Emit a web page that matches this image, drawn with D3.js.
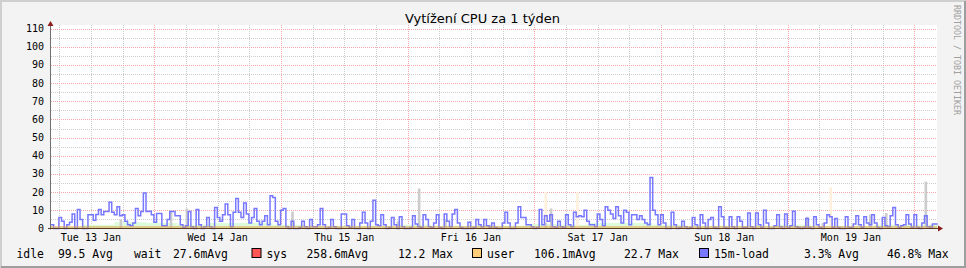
<!DOCTYPE html>
<html>
<head>
<meta charset="utf-8">
<script src="https://cdn.jsdelivr.net/npm/d3@7"></script>
<style>
  body { margin: 0; background: #f3f3f3; }
  svg { display: block; }
  text { font-family: "DejaVu Sans Mono", monospace; }
</style>
</head>
<body>
<svg id="chart"></svg>
<script>
// --- data ---
const title = "Vytížení CPU za 1 týden";
const watermark = "RRDTOOL / TOBI OETIKER";
const startTime = Date.UTC(2009, 0, 13, 4, 26);
const stepMinutes = 30;

// 15 minute load, one value every 30 minutes
const loadVals = [
  2, 0, 0, 6, 4, 0, 2, 3.5, 8, 0, 10.5, 5, 0, 0, 7.5, 7.5, 4.5, 7.7, 10.4, 7.5,
  9.3, 9.3, 14.5, 9, 7.5, 12, 7, 7.5, 4, 2, 1.5, 3, 11, 7, 9.3, 19.5, 9.3, 9.5, 7.5, 3.5,
  8.2, 8.2, 1.5, 1.5, 5, 9.3, 9.3, 7, 7, 2, 0.5, 1.5, 9.3, 1, 0, 10.5, 2, 0, 1, 6,
  1, 0, 11.5, 6, 4, 7.5, 13.5, 7.5, 1, 9, 16.5, 9, 6, 14, 8, 3, 6, 11, 4, 2,
  4, 7, 2, 18, 17, 4, 2, 10, 11, 1, 0, 4, 0, 0, 0.5, 4, 1, 0, 5, 1,
  1, 2, 11, 2, 0, 0.5, 5, 1, 0, 0, 8, 8, 1.5, 0.5, 5, 0, 0, 3, 9, 3,
  0, 4, 15.5, 2, 1.5, 7.5, 2, 0, 0.5, 6, 2, 0, 6.5, 1, 0, 0, 0.5, 7, 2.5, 1,
  0.5, 7.5, 5, 1, 0.5, 3, 7.5, 0.5, 0, 8, 4, 1, 8, 10.5, 3, 0.5, 0, 0, 3.5, 0,
  0.5, 5, 2, 1, 5, 1.5, 0.5, 3, 0.5, 0, 0, 3, 9, 3, 0, 0, 3, 12, 6, 6,
  2, 2, 1, 0, 0.5, 10.5, 2, 7, 4, 7.5, 1, 0.5, 4, 1, 0.5, 7.5, 2, 1, 9, 6.5,
  7, 6.5, 10, 4, 2, 2, 1, 8, 5, 1.5, 12, 10, 8, 5.5, 12, 7, 3, 10, 9, 2,
  7.5, 7.5, 5, 7, 5, 3, 2, 28, 10, 7.5, 2, 7.5, 3, 0, 0, 9, 2, 0, 0.5, 4,
  1, 0, 0.5, 6, 2, 0, 7.5, 3, 0, 5, 6, 0.5, 0, 12, 6.5, 0.5, 0, 6.5, 1, 0,
  6.5, 4, 0.5, 0.5, 8.5, 1, 0, 8.5, 2, 0.5, 10, 3, 0, 0, 1.5, 7.5, 1, 0, 8, 0.5,
  1.5, 9.5, 1, 0.5, 0, 0.5, 5.5, 0.5, 0, 6.5, 2, 0.5, 0, 3, 7.5, 6.5, 0.5, 5.5, 0.5, 0,
  0, 6.5, 0.5, 0.5, 2.5, 7, 2, 0.5, 6.5, 3, 2, 7.5, 3, 0.5, 0, 6, 1.5, 1, 7, 11.5,
  2, 0.5, 1.5, 2, 7.5, 2.5, 0.5, 7.5, 0.5, 0, 3, 7, 1, 0.5, 2.5, 2.5
];

// light green background band, one value every 6 hours
const greenVals = [1, 2, 3.5, 3, 2, 3, 3, 2, 1.5, 1.5, 1.5, 2, 1.5, 1.5,
  1.5, 2.5, 2, 3, 3, 2, 1.5, 1.5, 1.5, 2, 1.5, 1.5, 2, 2];

// wait spikes (sample index, value)
const waitIdx = [26, 45, 51, 91, 131, 139, 149, 166, 187, 189, 286, 292, 310, 316, 331, 333];
const waitVals = [5, 10, 11, 9.3, 4, 22, 4.8, 2, 3, 11, 6.5, 3, 7.7, 8.5, 25.8, 2];

// user maximum spikes (sample index, value)
const userMaxIdx = [187, 199, 295];
const userMaxVals = [20, 20, 22.7];

const yTicks = [0, 10, 20, 30, 40, 50, 60, 70, 80, 90, 100, 110];
const dayLabels = ["Tue 13 Jan", "Wed 14 Jan", "Thu 15 Jan", "Fri 16 Jan",
  "Sat 17 Jan", "Sun 18 Jan", "Mon 19 Jan"];

const legendNames = ["idle", "wait", "sys", "user", "15m-load"];
const legendColors = [null, null, "#ff5555", "#ffcc77", "#7777ff"];
const legendAvg = ["99.5 Avg", "27.6mAvg", "258.6mAvg", "106.1mAvg", "3.3% Avg"];
const legendMax = [null, null, "12.2 Max", "22.7 Max", "46.8% Max"];

// --- layout ---
const W = 966, H = 268;
const plotL = 51, plotR = 937.7, plotT = 28.5, plotB = 228.5;
const stepMs = stepMinutes * 60000;
const endTime = startTime + 7 * 24 * 3600000;

const svg = d3.select("#chart").attr("width", W).attr("height", H);

// frame
svg.append("rect").attr("width", W).attr("height", H).attr("fill", "#f3f3f3");
svg.append("path").attr("d", `M0.5,${H} V0.5 H${W}`).attr("fill", "none")
  .attr("stroke", "#cfcfcf").attr("stroke-width", 3);
svg.append("path").attr("d", `M1,${H - 1} H${W - 1} V1`).attr("fill", "none")
  .attr("stroke", "#9e9e9e").attr("stroke-width", 2);

const x = d3.scaleTime().domain([new Date(startTime), new Date(endTime)]).range([plotL, plotR]);
const y = d3.scaleLinear().domain([0, 110]).range([plotB, plotT]);

// canvas
svg.append("rect")
  .attr("x", plotL).attr("y", 25)
  .attr("width", 937 - plotL).attr("height", plotB - 25)
  .attr("fill", "#ffffff");

// grid
const grid = svg.append("g").attr("shape-rendering", "crispEdges");
const minorY = d3.range(5, 111, 5).filter(v => v % 10 !== 0);
grid.selectAll(".hminor").data(minorY).join("line")
  .attr("x1", plotL).attr("x2", 937)
  .attr("y1", d => Math.round(y(d)) + 0.5).attr("y2", d => Math.round(y(d)) + 0.5)
  .attr("stroke", "#cdcdcd").attr("stroke-dasharray", "1,1");

const sixHours = d3.utcHour.every(6).range(new Date(startTime), new Date(endTime))
  .filter(d => d.getUTCHours() !== 0);
grid.selectAll(".vminor").data(sixHours).join("line")
  .attr("x1", d => Math.round(x(d)) + 0.5).attr("x2", d => Math.round(x(d)) + 0.5)
  .attr("y1", 25).attr("y2", plotB)
  .attr("stroke", "#cdcdcd").attr("stroke-dasharray", "1,1");

grid.selectAll(".hmajor").data(yTicks.filter(v => v > 0)).join("line")
  .attr("x1", plotL).attr("x2", 937)
  .attr("y1", d => Math.round(y(d)) + 0.5).attr("y2", d => Math.round(y(d)) + 0.5)
  .attr("stroke", "#f2a8a8").attr("stroke-dasharray", "1,1");

const days = d3.utcDay.range(new Date(startTime), new Date(endTime));
grid.selectAll(".vmajor").data(days).join("line")
  .attr("x1", d => Math.round(x(d)) + 0.5).attr("x2", d => Math.round(x(d)) + 0.5)
  .attr("y1", 25).attr("y2", plotB)
  .attr("stroke", "#f2a8a8").attr("stroke-dasharray", "1,1");

// series
const tAt = i => new Date(startTime + i * stepMs);
const green = greenVals.map((v, i) => ({ t: new Date(startTime + i * 6 * 3600000), v }));
green.push({ t: new Date(endTime), v: greenVals[greenVals.length - 1] });
svg.append("path").datum(green)
  .attr("fill", "#dcfcdc")
  .attr("d", d3.area().curve(d3.curveStepAfter)
    .x(d => x(d.t)).y0(y(0)).y1(d => y(d.v)));

const spikes = (idx, vals) => idx.map((k, i) => ({ t: tAt(k), v: vals[i] }));
svg.append("g").selectAll("rect").data(spikes(userMaxIdx, userMaxVals)).join("rect")
  .attr("x", d => x(d.t)).attr("width", d => x(new Date(+d.t + stepMs)) - x(d.t))
  .attr("y", d => y(d.v)).attr("height", d => y(0) - y(d.v))
  .attr("fill", "#fff0dc");
svg.append("g").selectAll("rect").data(spikes(waitIdx, waitVals)).join("rect")
  .attr("x", d => x(d.t)).attr("width", d => x(new Date(+d.t + stepMs)) - x(d.t))
  .attr("y", d => y(d.v)).attr("height", d => y(0) - y(d.v))
  .attr("fill", "#cccccc");

const load = loadVals.map((v, i) => ({ t: tAt(i), v }));
load.push({ t: new Date(endTime), v: loadVals[loadVals.length - 1] });
svg.append("path").datum(load)
  .attr("fill", "none").attr("stroke", "#7777ff").attr("stroke-width", 1.5)
  .attr("d", d3.line().curve(d3.curveStepAfter).x(d => x(d.t)).y(d => y(d.v)));

// base band (sys + user)
svg.append("line").attr("x1", plotL).attr("x2", 937)
  .attr("y1", plotB - 1.5).attr("y2", plotB - 1.5)
  .attr("stroke", "#e0a040").attr("stroke-width", 1);

// axes
svg.append("line").attr("x1", plotL - 0.5).attr("x2", plotL - 0.5)
  .attr("y1", plotB + 1).attr("y2", 24).attr("stroke", "#707070");
svg.append("line").attr("x1", plotL - 3).attr("x2", 940)
  .attr("y1", plotB).attr("y2", plotB).attr("stroke", "#5a3c20");
svg.append("path").attr("d", `M${plotL - 3.5},26 L${plotL - 0.5},21 L${plotL + 2.5},26 Z`).attr("fill", "#8b1c1c");
svg.append("path").attr("d", `M938,${plotB - 3} L943,${plotB} L938,${plotB + 3} Z`).attr("fill", "#8b1c1c");

// y labels
svg.append("g").selectAll("text").data(yTicks).join("text")
  .attr("x", 44).attr("y", d => y(d) + 3.5)
  .attr("text-anchor", "end").attr("font-size", 10).attr("fill", "#000")
  .text(d => d);

// x labels at noon of each day
const noons = days.map(d => new Date(+d - 12 * 3600000));
svg.append("g").selectAll("text").data(dayLabels).join("text")
  .attr("x", (d, i) => x(noons[i])).attr("y", 241)
  .attr("text-anchor", "middle").attr("font-size", 10).attr("fill", "#000")
  .text(d => d);

// title
svg.append("text").attr("x", 482.5).attr("y", 23)
  .attr("text-anchor", "middle")
  .style("font-family", "'DejaVu Sans', sans-serif")
  .attr("font-size", 13).text(title);

// watermark
svg.append("text").attr("transform", "translate(954,5) rotate(90)")
  .attr("font-size", 8.3).attr("fill", "#a0a0a0").text(watermark);

// legend
const legendX = [16.5, 134, 266.5, 487, 714];
const avgX = [58, 173, 306.5, 534, 804];
const maxX = [null, null, 398, 624, 887];
const lg = svg.append("g").attr("font-size", 11.4).attr("fill", "#000");
legendNames.forEach((name, i) => {
  if (legendColors[i]) {
    lg.append("rect").attr("x", legendX[i] - 14.5).attr("y", 248.5)
      .attr("width", 9).attr("height", 9)
      .attr("fill", legendColors[i]).attr("stroke", "#000");
  }
  lg.append("text").attr("x", legendX[i]).attr("y", 258).text(name);
  lg.append("text").attr("x", avgX[i]).attr("y", 258).text(legendAvg[i]);
  if (legendMax[i]) lg.append("text").attr("x", maxX[i]).attr("y", 258).text(legendMax[i]);
});
</script>
</body>
</html>
